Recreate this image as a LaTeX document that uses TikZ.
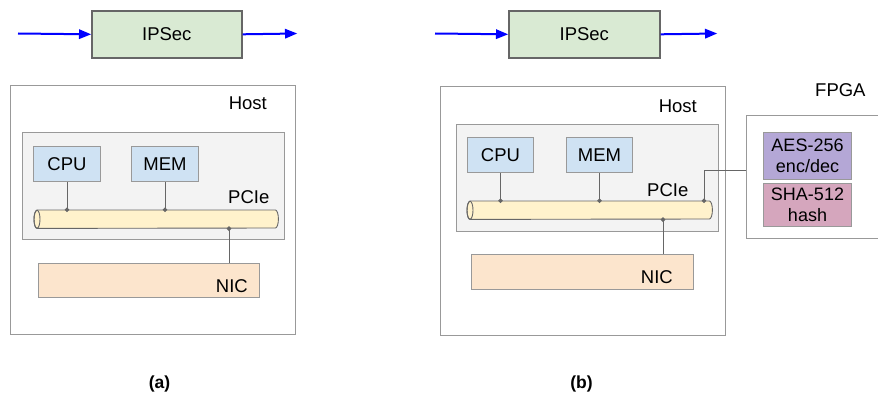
\documentclass[tikz,border=0pt]{standalone}
\usepackage{fontspec}
\setmainfont{Liberation Sans}
\usetikzlibrary{arrows.meta}

\definecolor{ipsecfill}{HTML}{D9EAD3}
\definecolor{darkline}{HTML}{666666}
\definecolor{lightline}{HTML}{999999}
\definecolor{pcifill}{HTML}{F3F3F3}
\definecolor{cpufill}{HTML}{CFE2F3}
\definecolor{busfill}{HTML}{FFF2CC}
\definecolor{nicfill}{HTML}{FCE5CD}
\definecolor{aesfill}{HTML}{B4A7D6}
\definecolor{shafill}{HTML}{D5A6BD}
\definecolor{flowblue}{HTML}{0000FF}

\tikzset{
  txt/.style={font=\fontsize{18.5}{22}\selectfont, text=black, inner sep=0pt},
  box/.style={rectangle, inner sep=0pt, anchor=north west},
  ipsecbox/.style={box, draw=darkline, line width=1.6pt, fill=ipsecfill, txt},
  hostbox/.style={box, draw=lightline, line width=1.2pt},
  pcibox/.style={box, draw=lightline, line width=1pt, fill=pcifill},
  unitbox/.style={box, draw=lightline, line width=1pt, fill=cpufill, txt},
  nicbox/.style={box, draw=lightline, line width=1pt, fill=nicfill},
  engbox/.style={box, draw=lightline, line width=1pt, align=center,
    font=\fontsize{18}{21}\selectfont},
  busbody/.style={draw=darkline, line width=0.9pt, fill=busfill},
  flow/.style={draw=flowblue, line width=2pt,
    -{Triangle[length=12pt,width=10pt,line width=0pt]}},
  wire/.style={draw=darkline, line width=1pt, shorten >=-2pt,
    -{Circle[length=4.5pt]}, fill=darkline},
  plainwire/.style={draw=darkline, line width=1pt},
  caption/.style={font=\fontsize{17.5}{20}\selectfont\bfseries, inner sep=0pt}
}

% horizontal bus drawn as a cylinder lying on its side, open end on the left
\newcommand{\busshape}[1]{%
  \path[busbody] ([xshift=3pt]#1.north west) -- ([xshift=-3pt]#1.north east)
    arc[start angle=90, end angle=-90, x radius=3pt, y radius=9pt]
    -- ([xshift=3pt]#1.south west)
    arc[start angle=270, end angle=90, x radius=3pt, y radius=9pt] -- cycle;
  \draw[darkline, line width=0.9pt] ([xshift=3pt]#1.west) ellipse[x radius=3pt, y radius=9pt];
}

\begin{document}
\begin{tikzpicture}[x=1pt, y=1pt]
\useasboundingbox (0,0) rectangle (878,-396);

% ---------------- (a) software IPSec ----------------
\node[ipsecbox, minimum width=150pt, minimum height=47pt] (ipsecA) at (91,-10) {IPSec};
\coordinate (inA) at (18,-33.5);
\coordinate (outA) at (297,-33.5);
\draw[flow] (inA) -- (ipsecA.west);
\draw[flow] (ipsecA.east) -- (outA);

\node[hostbox, minimum width=285.5pt, minimum height=249pt] (hostA) at (9.5,-85) {};
\node[txt, anchor=base east] (hostAlbl) at (267,-109) {Host};

\node[pcibox, minimum width=262pt, minimum height=107pt] (pciA) at (22,-132) {};
\node[unitbox, minimum width=67pt, minimum height=35pt] (cpuA) at (33,-146) {CPU};
\node[unitbox, minimum width=67pt, minimum height=35pt] (memA) at (131,-146) {MEM};
\node[box, minimum width=244pt, minimum height=18pt] (busA) at (34,-210) {};
\busshape{busA}
\node[txt, anchor=base west] (pcieAlbl) at (228,-203) {PCIe};

\node[nicbox, minimum width=221pt, minimum height=34pt] (nicA) at (38,-263) {};
\node[txt, anchor=base east] (nicAlbl) at (248,-292) {NIC};

\coordinate (nicAtap) at (229,-263);
\draw[wire] (cpuA.south) -- (cpuA.south |- busA.north);
\draw[wire] (memA.south) -- (memA.south |- busA.north);
\draw[wire] (nicAtap) -- (nicAtap |- busA.south);

\node[caption] (capA) at (159.5,-384) {(a)};

% ---------------- (b) FPGA-offloaded IPSec ----------------
\node[ipsecbox, minimum width=151pt, minimum height=47pt] (ipsecB) at (508,-10) {IPSec};
\coordinate (inB) at (435,-33.5);
\coordinate (outB) at (717,-33.5);
\draw[flow] (inB) -- (ipsecB.west);
\draw[flow] (ipsecB.east) -- (outB);

\node[hostbox, minimum width=285pt, minimum height=249pt] (hostB) at (440,-86) {};
\node[txt, anchor=base east] (hostBlbl) at (697,-112) {Host};

\node[pcibox, minimum width=262pt, minimum height=107pt] (pciB) at (456,-124) {};
\node[unitbox, minimum width=66pt, minimum height=35pt] (cpuB) at (467,-137) {CPU};
\node[unitbox, minimum width=66pt, minimum height=35pt] (memB) at (566,-137) {MEM};
\node[box, minimum width=245pt, minimum height=18pt] (busB) at (467,-201) {};
\busshape{busB}
\node[txt, anchor=base west] (pcieBlbl) at (647,-196) {PCIe};

\node[nicbox, minimum width=222pt, minimum height=35pt] (nicB) at (471,-254) {};
\node[txt, anchor=base east] (nicBlbl) at (673,-283) {NIC};

\coordinate (nicBtap) at (663,-254);
\draw[wire] (cpuB.south) -- (cpuB.south |- busB.north);
\draw[wire] (memB.south) -- (memB.south |- busB.north);
\draw[wire] (nicBtap) -- (nicBtap |- busB.south);

% FPGA card with the crypto engines
\node[box, minimum width=140pt, minimum height=123pt] (fpga) at (746,-115) {};
\draw[lightline, line width=1pt] (fpga.north east) -- (fpga.north west)
  -- (fpga.south west) -- (fpga.south east);
\node[txt, anchor=base west] (fpgalbl) at (815,-96) {FPGA};
\node[engbox, fill=aesfill, minimum width=88pt, minimum height=47pt] (aes) at (763,-132) {AES-256\\enc/dec};
\node[engbox, fill=shafill, minimum width=88pt, minimum height=43pt] (sha) at (763,-183) {SHA-512\\hash};

\coordinate (fpgabend) at (704,-170);
\draw[plainwire] (fpga.west |- fpgabend) -- (fpgabend);
\draw[wire] (fpgabend) -- (fpgabend |- busB.north);

\node[caption] (capB) at (581.5,-384) {(b)};
\end{tikzpicture}
\end{document}
